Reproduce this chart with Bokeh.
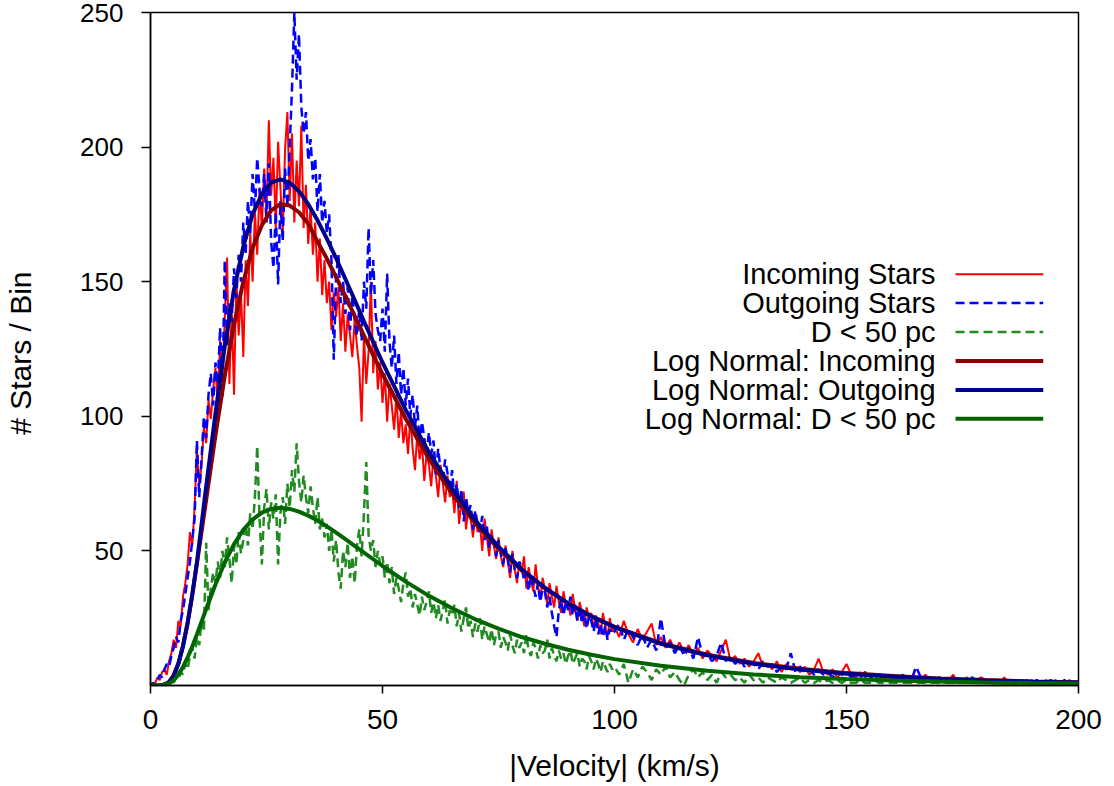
from bokeh.plotting import figure
from bokeh.models import FixedTicker, Label, Arrow
from bokeh.embed import file_html
from bokeh.resources import INLINE

# ---------------- data ----------------
# velocity bins: 0.5 km/s below 100 km/s, 1 km/s above
VEL_FINE = [i * 0.5 for i in range(200)]
VEL_COARSE = list(range(100, 201))
VEL = VEL_FINE + VEL_COARSE
VEL_GREEN = VEL_FINE + list(range(100, 176))

INCOMING = [
    0, 0, 1, 3, 2, 5, 6, 4, 9, 12,
    17, 14, 24, 22, 33, 38, 45, 57, 52, 66,
    88, 74, 82, 96, 90, 106, 99, 110, 118, 104,
    128, 115, 136, 159, 112, 140, 108, 151, 130, 146,
    122, 158, 141, 168, 150, 176, 160, 185, 170, 192,
    175, 210, 182, 196, 170, 202, 185, 168, 199, 213,
    180, 205, 172, 195, 178, 208, 170, 186, 164, 178,
    160, 172, 150, 166, 145, 158, 142, 150, 132, 146,
    137, 148, 128, 142, 124, 138, 130, 122, 136, 126,
    118, 98, 130, 112, 124, 150, 116, 128, 110, 120,
    105, 116, 98, 112, 104, 95, 108, 92, 102, 90,
    97, 86, 100, 88, 80, 94, 84, 90, 76, 86,
    82, 74, 86, 78, 70, 82, 75, 68, 78, 70,
    73, 64, 76, 60, 68, 72, 58, 66, 62, 55,
    64, 57, 60, 50, 62, 55, 48, 58, 52, 47,
    55, 48, 44, 52, 46, 40, 50, 43, 38, 46,
    42, 48, 36, 44, 39, 35, 45, 37, 32, 40,
    36, 30, 38, 33, 29, 37, 31, 27, 35, 30,
    31, 26, 34, 28, 24, 31, 27, 22, 29, 25,
    27, 21, 26, 23, 19, 27, 22, 18, 25, 20,
    # 100 .. 200
    22, 18, 24, 19, 16, 21, 17, 20, 23, 15,
    18, 14, 17, 13, 16, 12, 15, 11, 14, 10,
    13, 11, 9, 13, 17, 9, 11, 8, 10, 7,
    9, 12, 7, 8, 6, 9, 5, 8, 6, 7,
    5, 7, 4, 6, 10, 5, 4, 6, 3, 5,
    8, 4, 3, 5, 3, 4, 2, 4, 3, 2,
    4, 3, 2, 3, 1, 3, 2, 4, 2, 1,
    3, 2, 2, 4, 1, 2, 3, 1, 2, 3,
    2, 1, 2, 1, 3, 1, 2, 1, 2, 1,
    2, 1, 1, 2, 1, 2, 1, 1, 2, 1,
    1,
]

OUTGOING = [
    0, 1, 0, 2, 4, 3, 6, 8, 7, 11,
    14, 18, 16, 24, 28, 34, 40, 46, 54, 62,
    91, 70, 84, 100, 92, 108, 116, 104, 120, 112,
    133, 107, 158, 126, 142, 135, 155, 144, 160, 150,
    172, 160, 180, 168, 190, 176, 196, 184, 178, 190,
    172, 194, 165, 155, 176, 149, 180, 165, 192, 178,
    200, 222, 250, 225, 242, 215, 205, 213, 195, 203,
    188, 196, 176, 190, 172, 180, 168, 175, 158, 121,
    152, 160, 142, 150, 138, 148, 132, 145, 136, 130,
    140, 128, 150, 140, 170, 145, 158, 138, 132, 128,
    140, 124, 153, 128, 118, 130, 112, 124, 108, 118,
    104, 114, 100, 108, 96, 104, 90, 98, 92, 86,
    94, 86, 91, 78, 88, 80, 76, 84, 79, 72,
    80, 69, 75, 66, 73, 61, 70, 64, 67, 58,
    65, 60, 57, 63, 54, 59, 51, 56, 53, 48,
    54, 49, 45, 51, 47, 42, 49, 43, 40, 46,
    44, 39, 42, 35, 41, 37, 33, 38, 31, 36,
    35, 29, 33, 27, 22, 18, 28, 32, 26, 31,
    28, 33, 26, 30, 24, 29, 23, 27, 21, 26,
    24, 20, 25, 19, 23, 18, 22, 17, 21, 19,
    # 100 .. 200
    20, 23, 17, 21, 18, 15, 19, 14, 17, 13,
    25, 14, 16, 12, 15, 11, 14, 10, 18, 11,
    12, 9, 11, 16, 9, 11, 8, 10, 7, 9,
    8, 6, 9, 7, 8, 5, 7, 6, 12, 5,
    7, 5, 6, 4, 6, 4, 5, 3, 5, 4,
    5, 3, 4, 3, 5, 3, 4, 2, 4, 3,
    3, 2, 4, 3, 2, 7, 3, 2, 3, 2,
    3, 2, 1, 3, 2, 2, 1, 3, 2, 1,
    2, 2, 1, 2, 1, 2, 1, 2, 1, 2,
    1, 2, 1, 1, 2, 1, 1, 2, 1, 1,
    1,
]

NEAR_50PC = [
    0, 0, 0, 0, 0, 0, 1, 0, 1, 2,
    1, 3, 2, 5, 4, 8, 6, 11, 14, 10,
    18, 15, 24, 20, 53, 28, 36, 42, 38, 46,
    40, 50, 44, 55, 47, 38, 52, 45, 57, 49,
    54, 60, 52, 64, 58, 70, 89, 62, 45, 66,
    73, 58, 68, 62, 71, 45, 64, 70, 60, 75,
    66, 80, 72, 90, 76, 68, 78, 70, 64, 74,
    66, 60, 70, 58, 62, 55, 60, 50, 58, 46,
    54, 42, 36, 50, 44, 53, 40, 48, 38, 52,
    58, 48, 64, 83, 56, 50, 54, 44, 50, 45,
    48, 40, 46, 38, 44, 34, 40, 36, 31, 38,
    42, 33, 36, 29, 34, 30, 26, 33, 28, 31,
    35, 27, 31, 25, 30, 24, 28, 32, 23, 28,
    26, 30, 22, 27, 20, 25, 29, 21, 24, 18,
    23, 20, 25, 17, 22, 19, 16, 21, 15, 19,
    20, 14, 18, 16, 13, 19, 15, 12, 17, 14,
    16, 12, 19, 13, 11, 16, 14, 10, 15, 12,
    13, 17, 10, 14, 11, 9, 13, 10, 12, 8,
    11, 13, 8, 10, 12, 7, 10, 9, 6, 11,
    9, 6, 10, 8, 5, 9, 7, 5, 8, 6,
    # 100 .. 175
    7, 4, 8, 1, 6, 3, 7, 5, 2, 6,
    4, 7, 3, 5, 2, 0, 4, 6, 3, 5,
    2, 4, 1, 5, 3, 4, 2, 3, 1, 4,
    2, 3, 1, 3, 2, 1, 3, 2, 1, 2,
    3, 1, 2, 1, 2, 1, 2, 1, 2, 1,
    2, 1, 1, 2, 1, 1, 2, 1, 1, 1,
    1, 1, 1, 1, 1, 1, 1, 1, 1, 1,
    1, 1, 1, 1, 1, 1,
]

FIT_V = [0, 1, 2, 3, 4, 5, 6, 7, 8, 9, 10,
         12, 14, 16, 18, 20, 22, 24, 26, 28, 30,
         32, 34, 36, 38, 40, 42, 44, 46, 48, 50,
         55, 60, 65, 70, 75, 80, 85, 90, 95, 100,
         110, 120, 130, 140, 150, 160, 170, 180, 190, 200]

FIT_INCOMING = [0, 0, 0.02, 0.27, 1.31, 3.8, 8.2, 14.8, 23.3, 33.6, 45.2,
                69.0, 93.0, 115.0, 134.0, 150.0, 162.5, 171.0, 176.5, 178.8, 178.3,
                175.8, 171.5, 164.9, 158.6, 151.7, 144.6, 137.3, 130.0, 122.7, 115.7,
                99.1, 84.2, 71.3, 60.2, 50.8, 42.8, 36.1, 30.5, 25.8, 21.8,
                15.7, 11.4, 8.4, 6.2, 4.6, 3.5, 2.6, 2.0, 1.5, 1.2]

FIT_OUTGOING = [0, 0, 0.02, 0.24, 1.2, 3.6, 8.0, 14.5, 23.2, 33.7, 45.7,
                74.0, 101.0, 126.0, 147.0, 163.0, 175.0, 182.6, 186.8, 188.0, 186.8,
                183.6, 178.8, 172.8, 166.0, 158.7, 151.0, 143.2, 135.3, 127.6, 120.0,
                102.4, 86.7, 73.1, 61.4, 51.6, 43.2, 36.3, 30.5, 25.7, 21.7,
                15.5, 11.2, 8.1, 5.9, 4.4, 3.3, 2.45, 1.86, 1.42, 1.09]

FIT_NEAR_50PC = [0, 0, 0.02, 0.19, 0.77, 2.0, 4.05, 6.9, 10.4, 14.5, 19.0,
                 28.4, 37.5, 45.7, 52.5, 57.8, 61.6, 64.2, 65.6, 66.0, 65.6,
                 64.6, 63.1, 61.3, 59.1, 56.8, 54.4, 51.9, 49.4, 46.9, 44.4,
                 38.6, 33.3, 28.7, 24.6, 21.1, 18.0, 15.5, 13.3, 11.4, 9.8,
                 7.3, 5.5, 4.1, 3.1, 2.4, 1.85, 1.44, 1.12, 0.9, 0.7]

X_TICKS = [0, 50, 100, 150, 200]
Y_TICKS = [50, 100, 150, 200, 250]

LEGEND_LABELS = ["Incoming Stars", "Outgoing Stars", "D < 50 pc",
                 "Log Normal: Incoming", "Log Normal: Outgoing", "Log Normal: D < 50 pc"]

# ---------------- figure ----------------
FONT = "Liberation Sans"

p = figure(width=1108, height=786, x_range=(0, 200), y_range=(0, 250),
           output_backend="svg", toolbar_location=None,
           min_border_left=150, min_border_right=30,
           min_border_top=12, min_border_bottom=101)
p.xgrid.visible = False
p.ygrid.visible = False
p.outline_line_color = "black"
p.outline_line_width = 1.5
p.outline_line_alpha = 1.0
p.background_fill_color = "white"
p.border_fill_color = "white"

p.xaxis.ticker = FixedTicker(ticks=X_TICKS)
p.yaxis.ticker = FixedTicker(ticks=Y_TICKS)
for ax in (p.xaxis, p.yaxis):
    ax.axis_line_color = "black"
    ax.axis_line_width = 1.5
    ax.major_tick_line_color = "black"
    ax.major_tick_line_width = 1.5
    ax.major_tick_in = 0
    ax.minor_tick_line_color = None
    ax.major_label_text_font = FONT
    ax.major_label_text_color = "black"
    ax.axis_label_text_font = FONT
    ax.axis_label_text_font_style = "normal"
    ax.axis_label_text_color = "black"
    ax.axis_label_text_font_size = "30px"

p.xaxis.major_tick_out = 8
p.xaxis.major_label_standoff = 16
p.xaxis.major_label_text_font_size = "28px"
p.xaxis.axis_label = "|Velocity| (km/s)"
p.xaxis.axis_label_standoff = 17

p.yaxis.major_tick_out = 9
p.yaxis.major_label_standoff = 18
p.yaxis.major_label_text_font_size = "26px"
p.yaxis.axis_label = "# Stars  / Bin"
p.yaxis.axis_label_standoff = 40

# data
p.line(VEL, INCOMING, line_color="#ff0000", line_width=2)
p.line(VEL, OUTGOING, line_color="#0000ff", line_width=2.5, line_dash="9 5")
p.line(VEL_GREEN, NEAR_50PC, line_color="#228b22", line_width=2.5, line_dash="9 5")
p.line(FIT_V, FIT_INCOMING, line_color="#8b0000", line_width=4)
p.line(FIT_V, FIT_OUTGOING, line_color="#00008b", line_width=4)
p.line(FIT_V, FIT_NEAR_50PC, line_color="#006400", line_width=4)

# gnuplot-style key: right aligned text, sample on the right
styles = [("#ff0000", 2, "solid"), ("#0000ff", 2.5, "9 5"), ("#228b22", 2.5, "9 5"),
          ("#8b0000", 4, "solid"), ("#00008b", 4, "solid"), ("#006400", 4, "solid")]
key_text_x = 169.2
key_x0, key_x1 = 173.5, 192.4
key_top, key_step = 152.8, 10.75
for i, (lab, (col, lw, dash)) in enumerate(zip(LEGEND_LABELS, styles)):
    yy = key_top - i * key_step
    p.add_layout(Label(x=key_text_x, y=yy, text=lab, text_align="right",
                       text_baseline="middle", text_font=FONT,
                       text_font_size="29px", text_color="black"))
    p.add_layout(Arrow(x_start=key_x0, y_start=yy, x_end=key_x1, y_end=yy,
                       start=None, end=None, line_color=col, line_width=lw,
                       line_dash=dash))

open("out.html", "w").write(file_html(p, INLINE))
